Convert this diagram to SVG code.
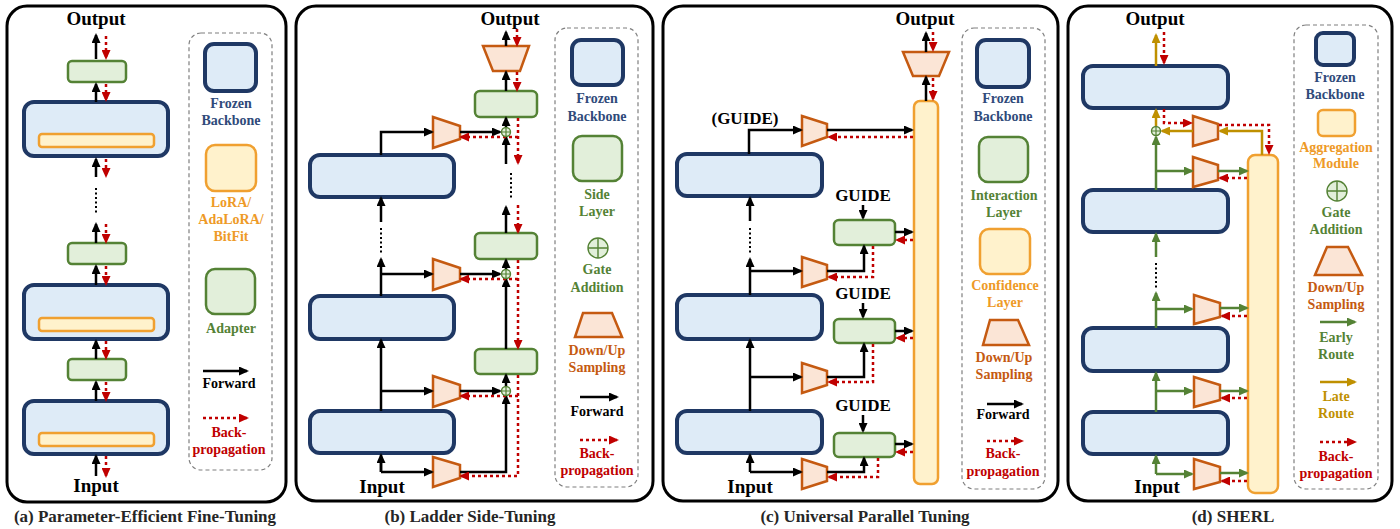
<svg xmlns="http://www.w3.org/2000/svg" width="1400" height="529" viewBox="0 0 1400 529">
  <defs>
    <style>
      .panel{fill:#fff;stroke:#000;stroke-width:3}
      .lgbox{fill:none;stroke:#7f7f7f;stroke-width:1.2;stroke-dasharray:4 3}
      .frozen{fill:#DEEBF7;stroke:#1F3864;stroke-width:4}
      .grn{fill:#E2EFDA;stroke:#548235;stroke-width:2.5}
      .org{fill:#FFF2CC;stroke:#F0A030;stroke-width:2.5}
      .trap{fill:#FBE5D6;stroke:#C55A11;stroke-width:2.5}
      .gate{fill:#E2EFDA;stroke:#548235;stroke-width:1.4}
      .fw{fill:none;stroke:#000;stroke-width:2.5;marker-end:url(#aBlk)}
      .fwn{fill:none;stroke:#000;stroke-width:2.5}
      .bp{fill:none;stroke:#C00000;stroke-width:2.5;stroke-dasharray:3 3;marker-end:url(#aRed)}
      .er{fill:none;stroke:#548235;stroke-width:2.5;marker-end:url(#aGrn)}
      .ern{fill:none;stroke:#548235;stroke-width:2.5}
      .lr{fill:none;stroke:#BF9000;stroke-width:2.5;marker-end:url(#aGld)}
      .lrn{fill:none;stroke:#BF9000;stroke-width:2.5}
      .dots{fill:none;stroke:#000;stroke-width:2;stroke-dasharray:2 2.5}
      text{font-family:"Liberation Serif","Times New Roman",serif;font-weight:bold;text-anchor:middle}
      .io{font-size:19px;fill:#000}
      .cap{font-size:17px;fill:#262626}
      .guide{font-size:17px;fill:#000}
      .lg{font-size:14px}
      .cNavy{fill:#2F4A7A}
      .cGrn{fill:#548235}
      .cOrg{fill:#EE9A27}
      .cTrap{fill:#C55A11}
      .cRed{fill:#C00000}
      .cGld{fill:#BF9000}
      .cBlk{fill:#000}
    </style>
    <marker id="aBlk" markerUnits="userSpaceOnUse" markerWidth="10" markerHeight="9" refX="8" refY="4.5" orient="auto">
      <path d="M0,0 L10,4.5 L0,9 z" fill="#000"/>
    </marker>
    <marker id="aRed" markerUnits="userSpaceOnUse" markerWidth="10" markerHeight="9" refX="8" refY="4.5" orient="auto">
      <path d="M0,0 L10,4.5 L0,9 z" fill="#C00000"/>
    </marker>
    <marker id="aGrn" markerUnits="userSpaceOnUse" markerWidth="10" markerHeight="9" refX="8" refY="4.5" orient="auto">
      <path d="M0,0 L10,4.5 L0,9 z" fill="#548235"/>
    </marker>
    <marker id="aGld" markerUnits="userSpaceOnUse" markerWidth="10" markerHeight="9" refX="8" refY="4.5" orient="auto">
      <path d="M0,0 L10,4.5 L0,9 z" fill="#BF9000"/>
    </marker>
  </defs>

  <rect width="1400" height="529" fill="#fff"/>

  <!-- ===================== (a) Parameter-Efficient Fine-Tuning ===================== -->
  <g id="panel-a">
    <rect class="panel" x="7" y="6" width="279" height="496" rx="20"/>
    <text class="io" x="96" y="25">Output</text>
    <text class="io" x="96" y="492">Input</text>
    <text class="cap" x="145" y="522">(a) Parameter-Efficient Fine-Tuning</text>

    <g id="a-adapter-1"><rect class="grn" x="68" y="61" width="58" height="21" rx="4"/></g>
    <g id="a-backbone-1">
      <rect class="frozen" x="24" y="102" width="144" height="54" rx="10"/>
      <rect class="org" x="39" y="134" width="115" height="13" rx="3"/>
    </g>
    <g id="a-adapter-2"><rect class="grn" x="68" y="243" width="58" height="21" rx="4"/></g>
    <g id="a-backbone-2">
      <rect class="frozen" x="24" y="285" width="144" height="54" rx="10"/>
      <rect class="org" x="39" y="318" width="115" height="13" rx="3"/>
    </g>
    <g id="a-adapter-3"><rect class="grn" x="68" y="359" width="58" height="21" rx="4"/></g>
    <g id="a-backbone-3">
      <rect class="frozen" x="24" y="401" width="144" height="53" rx="10"/>
      <rect class="org" x="39" y="433" width="115" height="13" rx="3"/>
    </g>

    <g id="a-connectors">
      <path class="fw" d="M96,59 V35"/>
      <path class="bp" d="M106,36 V58"/>
      <path class="fw" d="M96,102 V84"/>
      <path class="bp" d="M106,84 V100"/>
      <path class="fw" d="M96,177 V159"/>
      <path class="bp" d="M106,159 V176"/>
      <path class="dots" d="M96,188 V215"/>
      <path class="fw" d="M96,243 V224"/>
      <path class="bp" d="M106,224 V242"/>
      <path class="fw" d="M96,285 V266"/>
      <path class="bp" d="M106,266 V284"/>
      <path class="fw" d="M96,359 V341"/>
      <path class="bp" d="M106,341 V358"/>
      <path class="fw" d="M96,401 V382"/>
      <path class="bp" d="M106,382 V400"/>
      <path class="fw" d="M96,476 V456"/>
      <path class="bp" d="M106,456 V476"/>
    </g>

    <g id="a-legend">
      <rect class="lgbox" x="189" y="33" width="83" height="437" rx="12"/>
      <rect class="frozen" x="205" y="44" width="51" height="47" rx="9"/>
      <text class="lg cNavy" x="231" y="108">Frozen</text>
      <text class="lg cNavy" x="231" y="125">Backbone</text>
      <rect class="org" x="206" y="145" width="50" height="46" rx="9"/>
      <text class="lg cOrg" x="231" y="207">LoRA/</text>
      <text class="lg cOrg" x="231" y="224">AdaLoRA/</text>
      <text class="lg cOrg" x="231" y="241">BitFit</text>
      <rect class="grn" x="206" y="269" width="49" height="45" rx="9"/>
      <text class="lg cGrn" x="231" y="333">Adapter</text>
      <path class="fw" d="M203,371 H247"/>
      <text class="lg cBlk" x="229" y="388">Forward</text>
      <path class="bp" d="M203,418 H247"/>
      <text class="lg cRed" x="229" y="437">Back-</text>
      <text class="lg cRed" x="229" y="454">propagation</text>
    </g>
  </g>

  <!-- ===================== (b) Ladder Side-Tuning ===================== -->
  <g id="panel-b">
    <rect class="panel" x="296" y="6" width="357" height="495" rx="20"/>
    <text class="io" x="510" y="25">Output</text>
    <text class="io" x="382" y="493">Input</text>
    <text class="cap" x="470" y="522">(b) Ladder Side-Tuning</text>

    <g id="b-upsample"><polygon class="trap" points="483,46 529,46 520,71 493,71"/></g>
    <g id="b-side-1"><rect class="grn" x="475" y="91" width="62" height="26" rx="5"/></g>
    <g id="b-side-2"><rect class="grn" x="475" y="233" width="62" height="26" rx="5"/></g>
    <g id="b-side-3"><rect class="grn" x="475" y="349" width="62" height="25" rx="5"/></g>
    <g id="b-backbone-1"><rect class="frozen" x="310" y="155" width="144" height="42" rx="10"/></g>
    <g id="b-backbone-2"><rect class="frozen" x="310" y="296" width="144" height="43" rx="10"/></g>
    <g id="b-backbone-3"><rect class="frozen" x="310" y="411" width="144" height="42" rx="10"/></g>
    <g id="b-down-1"><polygon class="trap" points="433,117 460,126 460,139 433,148"/></g>
    <g id="b-down-2"><polygon class="trap" points="433,259 460,268 460,281 433,290"/></g>
    <g id="b-down-3"><polygon class="trap" points="433,376 460,385 460,398 433,407"/></g>
    <g id="b-down-4"><polygon class="trap" points="433,457 460,465 460,478 433,487"/></g>

    <g id="b-connectors">
      <path class="fw" d="M506,46 V32"/>
      <path class="bp" d="M517,29 V45"/>
      <path class="fw" d="M506,91 V72"/>
      <path class="bp" d="M517,72 V90"/>
      <path class="fw" d="M506,128 V118"/>
      <path class="fw" d="M506,164 V137"/>
      <path class="fw" d="M381,155 V132 H432"/>
      <path class="fw" d="M460,132 H500"/>
      <path class="bp" d="M518,118 V163"/>
      <path class="bp" d="M518,137 H461"/>
      <path class="dots" d="M511,173 V198"/>
      <path class="fw" d="M506,233 V207"/>
      <path class="bp" d="M518,205 V232"/>
      <path class="fw" d="M506,270 V260"/>
      <path class="fw" d="M506,349 V279"/>
      <path class="fw" d="M381,222 V198"/>
      <path class="dots" d="M381,228 V253"/>
      <path class="fw" d="M381,296 V259"/>
      <path class="fw" d="M381,274 H432"/>
      <path class="fw" d="M460,274 H500"/>
      <path class="bp" d="M518,260 V348"/>
      <path class="bp" d="M518,279 H461"/>
      <path class="fw" d="M506,387 V375"/>
      <path class="fw" d="M381,411 V340"/>
      <path class="fw" d="M381,391 H432"/>
      <path class="fw" d="M460,391 H500"/>
      <path class="fwn" d="M381,472 V460"/>
      <path class="fw" d="M381,472 V455"/>
      <path class="fw" d="M381,472 H432"/>
      <path class="fw" d="M460,472 H506 V396"/>
      <path class="bp" d="M518,375 V476 H461"/>
      <path class="bp" d="M518,396 H461"/>
    </g>
    <g id="b-gates">
      <g id="b-gate-1"><circle class="gate" cx="506" cy="132" r="4.5"/><path d="M501.5,132 H510.5 M506,127.5 V136.5" stroke="#548235" stroke-width="1.2"/></g>
      <g id="b-gate-2"><circle class="gate" cx="506" cy="274" r="4.5"/><path d="M501.5,274 H510.5 M506,269.5 V278.5" stroke="#548235" stroke-width="1.2"/></g>
      <g id="b-gate-3"><circle class="gate" cx="506" cy="391" r="4.5"/><path d="M501.5,391 H510.5 M506,386.5 V395.5" stroke="#548235" stroke-width="1.2"/></g>
    </g>

    <g id="b-legend">
      <rect class="lgbox" x="555" y="28" width="83" height="459" rx="12"/>
      <rect class="frozen" x="572" y="40" width="51" height="45" rx="9"/>
      <text class="lg cNavy" x="597" y="103">Frozen</text>
      <text class="lg cNavy" x="597" y="121">Backbone</text>
      <rect class="grn" x="573" y="136" width="49" height="45" rx="9"/>
      <text class="lg cGrn" x="597" y="199">Side</text>
      <text class="lg cGrn" x="597" y="216">Layer</text>
      <circle class="gate" cx="598" cy="248" r="10"/>
      <path d="M588,248 H608 M598,238 V258" stroke="#548235" stroke-width="1.4"/>
      <text class="lg cGrn" x="597" y="274">Gate</text>
      <text class="lg cGrn" x="597" y="292">Addition</text>
      <polygon class="trap" points="583,313 612,313 622,337 575,337"/>
      <text class="lg cTrap" x="597" y="355">Down/Up</text>
      <text class="lg cTrap" x="597" y="372">Sampling</text>
      <path class="fw" d="M580,397 H617"/>
      <text class="lg cBlk" x="597" y="416">Forward</text>
      <path class="bp" d="M580,440 H617"/>
      <text class="lg cRed" x="597" y="458">Back-</text>
      <text class="lg cRed" x="597" y="475">propagation</text>
    </g>
  </g>

  <!-- ===================== (c) Universal Parallel Tuning ===================== -->
  <g id="panel-c">
    <rect class="panel" x="663" y="6" width="395" height="495" rx="20"/>
    <text class="io" x="925" y="25">Output</text>
    <text class="io" x="750" y="493">Input</text>
    <text class="cap" x="865" y="522">(c) Universal Parallel Tuning</text>
    <text class="guide" x="745" y="124">(GUIDE)</text>
    <text class="guide" x="863" y="201">GUIDE</text>
    <text class="guide" x="863" y="299">GUIDE</text>
    <text class="guide" x="863" y="411">GUIDE</text>

    <g id="c-upsample"><polygon class="trap" points="903,52 949,52 939,76 913,76"/></g>
    <g id="c-confidence"><rect class="org" x="914" y="101" width="24" height="383" rx="6"/></g>
    <g id="c-backbone-1"><rect class="frozen" x="677" y="154" width="145" height="42" rx="10"/></g>
    <g id="c-backbone-2"><rect class="frozen" x="677" y="295" width="145" height="44" rx="10"/></g>
    <g id="c-backbone-3"><rect class="frozen" x="677" y="411" width="145" height="42" rx="10"/></g>
    <g id="c-down-1"><polygon class="trap" points="802,116 827,124 827,137 802,146"/></g>
    <g id="c-down-2"><polygon class="trap" points="802,257 827,265 827,279 802,287"/></g>
    <g id="c-down-3"><polygon class="trap" points="802,363 827,371 827,385 802,393"/></g>
    <g id="c-down-4"><polygon class="trap" points="802,459 827,467 827,481 802,489"/></g>
    <g id="c-inter-1"><rect class="grn" x="834" y="220" width="61" height="25" rx="5"/></g>
    <g id="c-inter-2"><rect class="grn" x="834" y="319" width="61" height="24" rx="5"/></g>
    <g id="c-inter-3"><rect class="grn" x="834" y="433" width="61" height="24" rx="5"/></g>

    <g id="c-connectors">
      <path class="fw" d="M926,52 V33"/>
      <path class="bp" d="M933,32 V50"/>
      <path class="fw" d="M926,101 V77"/>
      <path class="bp" d="M933,78 V99"/>
      <path class="fw" d="M749,154 V130 H801"/>
      <path class="fw" d="M827,130 H912"/>
      <path class="bp" d="M913,137 H829"/>
      <path class="fw" d="M750,221 V198"/>
      <path class="dots" d="M750,228 V253"/>
      <path class="fw" d="M750,295 V259"/>
      <path class="fw" d="M750,271 H801"/>
      <path class="fw" d="M827,271 H864 V246"/>
      <path class="bp" d="M873,246 V277 H829"/>
      <path class="fw" d="M863,205 V218"/>
      <path class="fw" d="M895,232 H912"/>
      <path class="bp" d="M913,240 H897"/>
      <path class="fw" d="M750,411 V340"/>
      <path class="fw" d="M750,377 H801"/>
      <path class="fw" d="M827,377 H864 V344"/>
      <path class="bp" d="M873,344 V382 H829"/>
      <path class="fw" d="M863,303 V317"/>
      <path class="fw" d="M895,331 H912"/>
      <path class="bp" d="M913,338 H897"/>
      <path class="fw" d="M750,472 V455"/>
      <path class="fw" d="M750,472 H801"/>
      <path class="fw" d="M827,472 H864 V458"/>
      <path class="bp" d="M878,458 V477 H829"/>
      <path class="fw" d="M863,415 V431"/>
      <path class="fw" d="M895,444 H912"/>
      <path class="bp" d="M913,452 H897"/>
    </g>

    <g id="c-legend">
      <rect class="lgbox" x="962" y="28" width="83" height="461" rx="12"/>
      <rect class="frozen" x="977" y="40" width="52" height="47" rx="9"/>
      <text class="lg cNavy" x="1003" y="103">Frozen</text>
      <text class="lg cNavy" x="1003" y="121">Backbone</text>
      <rect class="grn" x="979" y="137" width="49" height="45" rx="9"/>
      <text class="lg cGrn" x="1004" y="200">Interaction</text>
      <text class="lg cGrn" x="1004" y="217">Layer</text>
      <rect class="org" x="980" y="229" width="50" height="45" rx="9"/>
      <text class="lg cOrg" x="1005" y="290">Confidence</text>
      <text class="lg cOrg" x="1005" y="307">Layer</text>
      <polygon class="trap" points="990,320 1018,320 1029,345 983,345"/>
      <text class="lg cTrap" x="1004" y="362">Down/Up</text>
      <text class="lg cTrap" x="1004" y="379">Sampling</text>
      <path class="fw" d="M987,404 H1022"/>
      <text class="lg cBlk" x="1003" y="419">Forward</text>
      <path class="bp" d="M987,441 H1022"/>
      <text class="lg cRed" x="1003" y="458">Back-</text>
      <text class="lg cRed" x="1003" y="476">propagation</text>
    </g>
  </g>

  <!-- ===================== (d) SHERL ===================== -->
  <g id="panel-d">
    <rect class="panel" x="1068" y="6" width="324" height="495" rx="20"/>
    <text class="io" x="1155" y="25">Output</text>
    <text class="io" x="1157" y="493">Input</text>
    <text class="cap" x="1233" y="522">(d) SHERL</text>

    <g id="d-backbone-1"><rect class="frozen" x="1083" y="66" width="145" height="42" rx="10"/></g>
    <g id="d-backbone-2"><rect class="frozen" x="1083" y="190" width="145" height="42" rx="10"/></g>
    <g id="d-backbone-3"><rect class="frozen" x="1083" y="328" width="145" height="43" rx="10"/></g>
    <g id="d-backbone-4"><rect class="frozen" x="1083" y="412" width="145" height="42" rx="10"/></g>
    <g id="d-aggregation"><rect class="org" x="1248" y="155" width="30" height="338" rx="7"/></g>
    <g id="d-up"><polygon class="trap" points="1193,116 1218,124 1218,139 1193,146"/></g>
    <g id="d-down-1"><polygon class="trap" points="1193,157 1218,165 1218,180 1193,187"/></g>
    <g id="d-down-2"><polygon class="trap" points="1194,295 1220,303 1220,317 1194,324"/></g>
    <g id="d-down-3"><polygon class="trap" points="1194,377 1220,385 1220,400 1194,407"/></g>
    <g id="d-down-4"><polygon class="trap" points="1194,459 1220,467 1220,482 1194,489"/></g>

    <g id="d-connectors">
      <path class="lr" d="M1156,66 V35"/>
      <path class="bp" d="M1164,32 V63"/>
      <path class="lr" d="M1156,126 V110"/>
      <path class="lr" d="M1262,155 V131 H1220"/>
      <path class="lr" d="M1193,131 H1162"/>
      <path class="bp" d="M1164,109 V123 H1191"/>
      <path class="bp" d="M1219,125 H1269 V153"/>
      <path class="er" d="M1156,190 V137"/>
      <path class="er" d="M1156,171 H1192"/>
      <path class="er" d="M1218,171 H1247"/>
      <path class="bp" d="M1247,178 H1220"/>
      <path class="er" d="M1156,257 V234"/>
      <path class="dots" d="M1156,263 V288"/>
      <path class="er" d="M1156,328 V293"/>
      <path class="er" d="M1156,309 H1192"/>
      <path class="er" d="M1220,308 H1247"/>
      <path class="bp" d="M1247,316 H1222"/>
      <path class="er" d="M1156,412 V373"/>
      <path class="er" d="M1156,391 H1192"/>
      <path class="er" d="M1220,391 H1247"/>
      <path class="bp" d="M1247,398 H1222"/>
      <path class="er" d="M1156,474 V456"/>
      <path class="er" d="M1156,474 H1192"/>
      <path class="er" d="M1220,473 H1247"/>
      <path class="bp" d="M1247,481 H1222"/>
    </g>
    <g id="d-gate"><circle class="gate" cx="1156" cy="131" r="4.5"/><path d="M1151.5,131 H1160.5 M1156,126.5 V135.5" stroke="#548235" stroke-width="1.2"/></g>

    <g id="d-legend">
      <rect class="lgbox" x="1294" y="25" width="84" height="464" rx="12"/>
      <rect class="frozen" x="1316" y="33" width="38" height="32" rx="7"/>
      <text class="lg cNavy" x="1335" y="82">Frozen</text>
      <text class="lg cNavy" x="1335" y="99">Backbone</text>
      <rect class="org" x="1318" y="110" width="37" height="26" rx="5"/>
      <text class="lg cOrg" x="1336" y="152">Aggregation</text>
      <text class="lg cOrg" x="1336" y="168">Module</text>
      <circle class="gate" cx="1337" cy="191" r="10"/>
      <path d="M1327,191 H1347 M1337,181 V201" stroke="#548235" stroke-width="1.4"/>
      <text class="lg cGrn" x="1336" y="217">Gate</text>
      <text class="lg cGrn" x="1336" y="234">Addition</text>
      <polygon class="trap" points="1327,247 1348,247 1362,275 1315,275"/>
      <text class="lg cTrap" x="1336" y="292">Down/Up</text>
      <text class="lg cTrap" x="1336" y="309">Sampling</text>
      <path class="er" d="M1320,322 H1355"/>
      <text class="lg cGrn" x="1336" y="342">Early</text>
      <text class="lg cGrn" x="1336" y="359">Route</text>
      <path class="lr" d="M1320,382 H1355"/>
      <text class="lg cGld" x="1336" y="401">Late</text>
      <text class="lg cGld" x="1336" y="418">Route</text>
      <path class="bp" d="M1320,442 H1355"/>
      <text class="lg cRed" x="1336" y="461">Back-</text>
      <text class="lg cRed" x="1336" y="478">propagation</text>
    </g>
  </g>
</svg>
